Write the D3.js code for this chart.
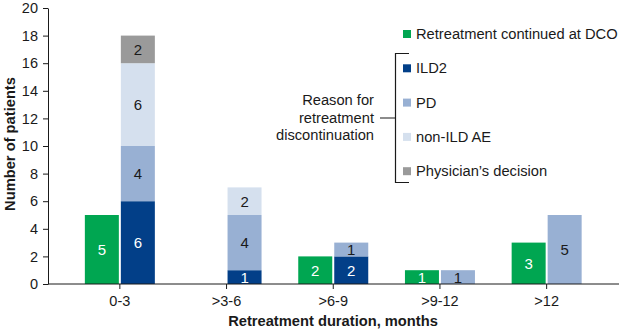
<!DOCTYPE html>
<html lang="en">
<head>
   <meta charset="utf-8">
   <title>Retreatment duration</title>
   <script src="https://cdn.jsdelivr.net/npm/d3@7"></script>
   <style type="text/css">
      body { margin: 0; background: #fff; }
      svg { font-family: "Liberation Sans", Arial, sans-serif; }
      .axis text { font-size: 14.5px; fill: #1a1a1a; }
      .axis path, .axis line { stroke: #1a1a1a; }
   </style>
</head>
<body>
   <script type="text/javascript">

      var w = 619;
      var h = 330;

      // values per duration group
      var durations = ["0-3", ">3-6", ">6-9", ">9-12", ">12"];
      var continued = [5, 0, 2, 1, 3];
      var ild2 = [6, 1, 2, 0, 0];
      var pd = [4, 4, 1, 1, 5];
      var nonIldAe = [6, 2, 0, 0, 0];
      var physician = [2, 0, 0, 0, 0];
      var yTicks = [0, 2, 4, 6, 8, 10, 12, 14, 16, 18, 20];

      var reasons = [
         { name: "ILD2", values: ild2, color: "#023f88", text: "#fff" },
         { name: "PD", values: pd, color: "#98b0d3", text: "#1a1a1a" },
         { name: "non-ILD AE", values: nonIldAe, color: "#d5e0ee", text: "#1a1a1a" },
         { name: "Physician\u2019s decision", values: physician, color: "#9a9a9a", text: "#1a1a1a" }
      ];
      var green = "#00a651";

      var svg = d3.select("body")
                  .append("svg")
                  .attr("width", w)
                  .attr("height", h);

      var xScale = d3.scaleBand()
                     .domain(durations)
                     .range([66.5, 600]);

      var yScale = d3.scaleLinear()
                     .domain([0, 20])
                     .range([284, 8]);

      var barW = 34;

      // green bars, left of each tick
      var gGreen = svg.append("g");
      durations.forEach(function(d, i) {
         if (continued[i] === 0) return;
         var cx = xScale(d) + xScale.bandwidth() / 2;
         gGreen.append("rect")
            .attr("x", cx - 1 - barW)
            .attr("y", yScale(continued[i]))
            .attr("width", barW)
            .attr("height", yScale(0) - yScale(continued[i]))
            .attr("fill", green);
         gGreen.append("text")
            .attr("x", cx - 1 - barW / 2)
            .attr("y", (yScale(0) + yScale(continued[i])) / 2 + 5.5)
            .attr("text-anchor", "middle")
            .attr("font-size", "15px")
            .attr("fill", "#fff")
            .text(continued[i]);
      });

      // stacked discontinuation bars, right of each tick
      var gStack = svg.append("g");
      durations.forEach(function(d, i) {
         var cx = xScale(d) + xScale.bandwidth() / 2;
         var base = 0;
         reasons.forEach(function(r) {
            var v = r.values[i];
            if (v === 0) return;
            gStack.append("rect")
               .attr("x", cx + 1)
               .attr("y", yScale(base + v))
               .attr("width", barW)
               .attr("height", yScale(base) - yScale(base + v))
               .attr("fill", r.color);
            gStack.append("text")
               .attr("x", cx + 1 + barW / 2)
               .attr("y", (yScale(base) + yScale(base + v)) / 2 + 5.5)
               .attr("text-anchor", "middle")
               .attr("font-size", "15px")
               .attr("fill", r.text)
               .text(v);
            base += v;
         });
      });

      var yAxis = d3.axisLeft(yScale)
                    .tickValues(yTicks)
                    .tickSize(5)
                    .tickSizeOuter(0)
                    .tickPadding(5);

      svg.append("g")
         .attr("class", "axis")
         .attr("transform", "translate(48, 0)")
         .call(yAxis);

      var xAxis = d3.axisBottom(xScale)
                    .tickSize(5)
                    .tickSizeOuter(0)
                    .tickPadding(7);

      var gx = svg.append("g")
         .attr("class", "axis")
         .attr("transform", "translate(0, 284)")
         .call(xAxis);
      gx.select(".domain").remove();
      gx.append("line")
         .attr("x1", 48)
         .attr("x2", w)
         .attr("stroke", "#1a1a1a");

      // axis titles
      svg.append("text")
         .attr("transform", "translate(15, 144) rotate(-90)")
         .attr("text-anchor", "middle")
         .attr("font-size", "14.7px")
         .attr("font-weight", "bold")
         .attr("fill", "#1a1a1a")
         .text("Number of patients");

      svg.append("text")
         .attr("x", 333)
         .attr("y", 326)
         .attr("text-anchor", "middle")
         .attr("font-size", "14.7px")
         .attr("font-weight", "bold")
         .attr("fill", "#1a1a1a")
         .text("Retreatment duration, months");

      // legend
      var legend = svg.append("g").attr("font-size", "14.7px").attr("fill", "#1a1a1a");
      var items = [{ name: "Retreatment continued at DCO", color: green }].concat(reasons);
      items.forEach(function(it, i) {
         var y = 34 + i * 34.3;
         legend.append("rect")
            .attr("x", 403)
            .attr("y", y - 4)
            .attr("width", 8)
            .attr("height", 8)
            .attr("fill", it.color);
         legend.append("text")
            .attr("x", 416)
            .attr("y", y + 5)
            .text(it.name);
      });

      // bracket grouping the discontinuation reasons
      svg.append("path")
         .attr("d", "M409,53.5H395.5V182.5H409M395.5,118H380")
         .attr("fill", "none")
         .attr("stroke", "#1a1a1a")
         .attr("stroke-width", 1.2);

      var note = svg.append("text")
         .attr("text-anchor", "end")
         .attr("font-size", "14.7px")
         .attr("fill", "#1a1a1a");
      ["Reason for", "retreatment", "discontinuation"].forEach(function(t, i) {
         note.append("tspan")
            .attr("x", 374)
            .attr("y", 105 + i * 17.5)
            .text(t);
      });
   </script>
</body>
</html>
